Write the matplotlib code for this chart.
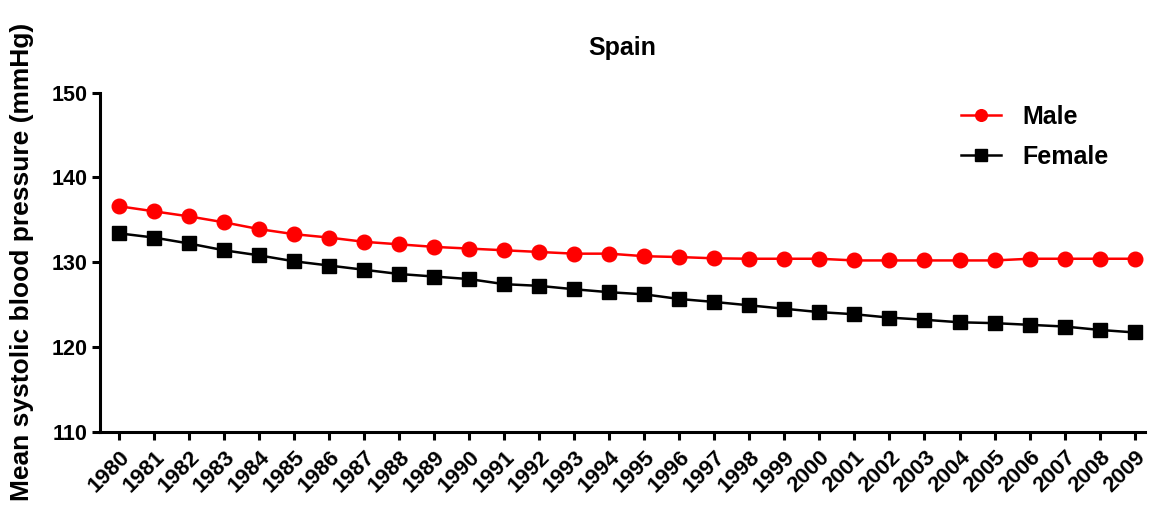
import matplotlib
matplotlib.use("Agg")
from matplotlib import pyplot as plt

plt.rcParams['font.family'] = ['Liberation Sans', 'DejaVu Sans']
plt.rcParams['font.weight'] = 'bold'

years = list(range(1980, 2010))
male = [136.6, 136.0, 135.4, 134.7, 133.9, 133.3, 132.9, 132.4, 132.1, 131.8,
        131.6, 131.4, 131.2, 131.0, 131.0, 130.7, 130.6, 130.45, 130.4, 130.4,
        130.4, 130.2, 130.2, 130.2, 130.2, 130.2, 130.4, 130.4, 130.4, 130.4]
female = [133.4, 132.9, 132.2, 131.4, 130.8, 130.1, 129.6, 129.1, 128.6, 128.3,
          128.0, 127.4, 127.2, 126.8, 126.45, 126.2, 125.65, 125.3, 124.9, 124.5,
          124.1, 123.85, 123.45, 123.2, 122.9, 122.8, 122.6, 122.4, 122.0, 121.7]
yticks = [110, 120, 130, 140, 150]

fig = plt.figure(figsize=(11.51, 5.15), dpi=100)
ax = fig.add_axes([0.0869, 0.162, 0.908, 0.658])

ax.plot(years, male, color='#ff0000', marker='o', markersize=10.5, linewidth=1.8,
        label='Male')
ax.plot(years, female, color='black', marker='s', markersize=10.5, linewidth=1.8,
        label='Female')

ax.set_xlim(1979.46, 2009.3)
ax.set_ylim(110, 150)
ax.set_yticks(yticks)
ax.set_xticks(years)
# top-right corner anchored under the tick, so the year sits a bit to the right
ax.set_xticklabels([str(y) for y in years], rotation=45, ha='right', va='top',
                   rotation_mode='anchor', fontsize=16, fontweight='bold')
ax.tick_params(axis='y', labelsize=15.5, pad=3)
ax.tick_params(axis='x', pad=5)
ax.tick_params(width=2.2, length=6, direction='out')

for s in ['top', 'right']:
    ax.spines[s].set_visible(False)
for s in ['left', 'bottom']:
    ax.spines[s].set_linewidth(2.2)

ax.set_ylabel('Mean systolic blood pressure (mmHg)', fontsize=19, fontweight='bold')
ax.yaxis.set_label_coords(-0.063, 0.5)
ax.set_title('Spain', fontsize=18, fontweight='bold', pad=27)

leg = ax.legend(loc='upper left', bbox_to_anchor=(0.824, 0.965), frameon=False,
                prop={'size': 18, 'weight': 'bold'}, handlelength=1.6,
                handletextpad=0.85, labelspacing=0.65, borderpad=0,
                borderaxespad=0, markerscale=0.8)

fig.savefig('out.png', dpi=100)
